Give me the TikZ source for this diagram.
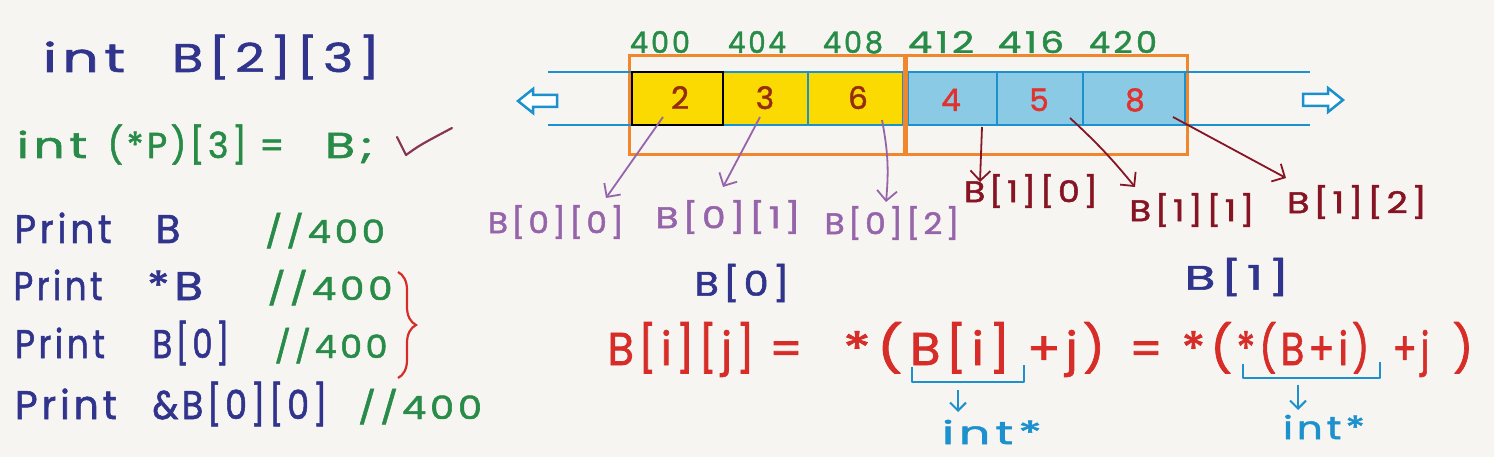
\documentclass[tikz,border=0pt]{standalone}
\usepackage{fontspec}
\usepackage{graphicx}
\setmainfont{Poppins}[LetterSpace=10, FakeBold=1.5]
\usetikzlibrary{arrows.meta,decorations.pathreplacing}
\definecolor{bgc}{RGB}{247,245,242}
\definecolor{navyc}{RGB}{48,52,140}
\definecolor{greenc}{RGB}{40,140,72}
\definecolor{redc}{RGB}{215,45,40}
\definecolor{purplec}{RGB}{150,100,170}
\definecolor{dredc}{RGB}{135,20,35}
\definecolor{orangec}{RGB}{240,135,45}
\definecolor{lbluec}{RGB}{28,145,205}
\definecolor{cyanc}{RGB}{138,202,228}
\definecolor{yelc}{RGB}{250,218,0}
\definecolor{brownc}{RGB}{150,45,15}
\definecolor{cellredc}{RGB}{225,50,45}
\definecolor{checkc}{RGB}{135,55,85}
\newcommand\fw[2]{\resizebox{#1pt}{\height}{#2}}
\begin{document}
\begin{tikzpicture}[x=1pt,y=-1pt,
  txt/.style={inner sep=0pt, anchor=base},
  ctxt/.style={inner sep=0pt, anchor=center},
  fs/.style={font=\fontsize{#1pt}{#1pt}\selectfont},
  navyt/.style={txt, text=navyc, fs=40},
  greent/.style={txt, text=greenc, fs=32},
  addr/.style={txt, text=greenc, fs=30},
  celltxt/.style={txt, fs=31},
  plbl/.style={ctxt, text=purplec, fs=30},
  dlbl/.style={ctxt, text=dredc, fs=30},
  eqt/.style={txt, text=redc, fs=46},
  intt/.style={ctxt, text=lbluec, fs=32},
  cellbox/.style={draw=lbluec, line width=2.5pt},
  parr/.style={draw=purplec, line width=1.8pt, -{Straight Barb[length=10pt,width=20pt]}},
  darr/.style={draw=dredc, line width=1.8pt, -{Straight Barb[length=10pt,width=20pt]}},
  barr/.style={draw=lbluec, line width=2pt, -{Straight Barb[length=8pt,width=16pt]}},
  ubr/.style={draw=lbluec, line width=2.2pt, line join=round},
  hollow/.style={draw=lbluec, fill=white, line width=2.5pt, line join=miter}
]
\fill[bgc] (0,0) rectangle (1494,457);
\useasboundingbox (0,0) rectangle (1494,457);

% ---------- left column ----------
\node[navyt] (l1a) at (84,72) {\fw{82}{int}};
\node[navyt] (l1b) at (276,72) {\fw{208}{B[2][3]}};
\node[txt, text=greenc, fs=36] (g1) at (52,158) {\fw{70}{int}};
\node[txt, text=greenc, fs=36] (g2) at (196,158) {\fw{177}{(*P)[3] =}};
\node[txt, text=greenc, fs=36] (g3) at (349,158) {\fw{48}{B;}};
\draw[checkc, line width=2.2pt, line cap=round, line join=round] (397,137) -- (406,155) .. controls (420,145) .. (452,128);

\node[navyt] (p1) at (63,243) {\fw{97}{Print}};
\node[navyt] (p1b) at (168,243) {\fw{25}{B}};
\node[greent] (p1c) at (325,243) {\fw{120}{//400}};
\node[navyt] (p2) at (58,300) {\fw{89}{Print}};
\node[navyt] (p2b) at (175,300) {\fw{56}{*B}};
\node[greent] (p2c) at (330,300) {\fw{125}{//400}};
\node[navyt] (p3) at (60,358) {\fw{90}{Print}};
\node[navyt] (p3b) at (191,358) {\fw{77}{B[0]}};
\node[greent] (p3c) at (331,358) {\fw{113}{//400}};
\node[navyt] (p4) at (66,419) {\fw{102}{Print}};
\node[navyt] (p4b) at (240,419) {\fw{175}{\&B[0][0]}};
\node[greent] (p4c) at (420,419) {\fw{124}{//400}};
\draw[redc, line width=2.2pt, decorate, decoration={brace, amplitude=18pt}] (398,272) -- (398,378);

% ---------- array ----------
\draw[orangec, line width=3pt] (629,56) rectangle (905,155);
\draw[orangec, line width=3pt] (905,56) rectangle (1187,155);
\draw[cellbox, fill=yelc] (632,72) rectangle (723,125);
\draw[cellbox, fill=yelc] (723,72) rectangle (808,125);
\draw[cellbox, fill=yelc] (808,72) rectangle (903,125);
\draw[cellbox, fill=cyanc] (908,72) rectangle (997,125);
\draw[cellbox, fill=cyanc] (997,72) rectangle (1083,125);
\draw[cellbox, fill=cyanc] (1083,72) rectangle (1185,125);
\draw[orangec, line width=5pt] (905,56) -- (905,155);
\draw[lbluec, line width=2.5pt] (548,72) -- (632,72) (1185,72) -- (1310,72);
\draw[lbluec, line width=2.5pt] (548,125) -- (632,125) (1185,125) -- (1310,125);
\draw[black, line width=2.5pt] (632,72) rectangle (723,125);
\draw[hollow] (518,101) -- (533,89) -- (533,95) -- (557,95) -- (557,107) -- (533,107) -- (533,113) -- cycle;
\draw[hollow] (1343,100) -- (1328,88) -- (1328,94) -- (1303,94) -- (1303,106) -- (1328,106) -- (1328,112) -- cycle;

\node[addr] (ad0) at (660,53) {\fw{60}{400}};
\node[addr] (ad1) at (757,53) {\fw{58}{404}};
\node[addr] (ad2) at (853,53) {\fw{60}{408}};
\node[addr] (ad3) at (941,53) {\fw{66}{412}};
\node[addr] (ad4) at (1031,53) {\fw{66}{416}};
\node[addr] (ad5) at (1123,53) {\fw{68}{420}};

\node[celltxt, text=brownc] (v0) at (680,109) {2};
\node[celltxt, text=brownc] (v1) at (765,109) {3};
\node[celltxt, text=brownc] (v2) at (858,109) {6};
\node[celltxt, text=cellredc] (v3) at (951,111) {4};
\node[celltxt, text=cellredc] (v4) at (1039,111) {5};
\node[celltxt, text=cellredc] (v5) at (1135,111) {8};

% ---------- element labels ----------
\node[plbl] (b00) at (556,222) {\fw{136}{B[0][0]}};
\node[plbl] (b01) at (728,217) {\fw{145}{B[0][1]}};
\node[plbl] (b02) at (892,223) {\fw{135}{B[0][2]}};
\node[dlbl] (b10) at (1031,191) {\fw{134}{B[1][0]}};
\node[dlbl] (b11) at (1192,210) {\fw{125}{B[1][1]}};
\node[dlbl] (b12) at (1357,202) {\fw{140}{B[1][2]}};

\coordinate (s0) at (663,117); \coordinate (e0) at (606,198);
\coordinate (s1) at (760,117); \coordinate (e1) at (723,187);
\coordinate (s2) at (882,120); \coordinate (e2) at (886,202);
\coordinate (s3) at (982,127); \coordinate (e3) at (980,182);
\coordinate (s4) at (1070,118); \coordinate (e4) at (1135,187);
\coordinate (s5) at (1173,117); \coordinate (e5) at (1286,178);
\draw[parr] (s0) -- (e0);
\draw[parr] (s1) -- (e1);
\draw[parr] (s2) to[bend left=8] (e2);
\draw[darr] (s3) -- (e3);
\draw[darr] (s4) to[bend left=4] (e4);
\draw[darr] (s5) -- (e5);

\node[ctxt, text=navyc, fs=34] (r0) at (742,283) {\fw{95}{B[0]}};
\node[ctxt, text=navyc, fs=34] (r1) at (1237,277) {\fw{105}{B[1]}};

% ---------- equation ----------
\node[eqt] (q1) at (681,365) {\fw{147}{B[i][j]}};
\node[eqt] (q2) at (786,365) {=};
\node[eqt] (q3) at (873,365) {\fw{60}{*(}};
\node[eqt] (q4) at (960,365) {\fw{100}{B[i]}};
\node[eqt] (q5) at (1066,365) {\fw{78}{+j)}};
\node[eqt] (q6) at (1146,365) {=};
\node[eqt] (q7) at (1207,365) {\fw{51}{*(}};
\node[eqt] (q8) at (1303,365) {\fw{133}{*(B+i)}};
\node[eqt] (q9) at (1411,365) {\fw{37}{+j}};
\node[eqt] (q10) at (1463,365) {)};

\draw[ubr] (912,367) -- (912,382) -- (1024,382) -- (1024,365);
\draw[ubr] (1243,364) -- (1243,378) -- (1380,378) -- (1380,362);
\coordinate (u1s) at (958,390); \coordinate (u1e) at (958,412);
\coordinate (u2s) at (1298,385); \coordinate (u2e) at (1298,410);
\draw[barr] (u1s) -- (u1e);
\draw[barr] (u2s) -- (u2e);
\node[intt] (i1) at (992,432) {\fw{100}{int*}};
\node[intt] (i2) at (1324,427) {\fw{82}{int*}};
\end{tikzpicture}
\end{document}
